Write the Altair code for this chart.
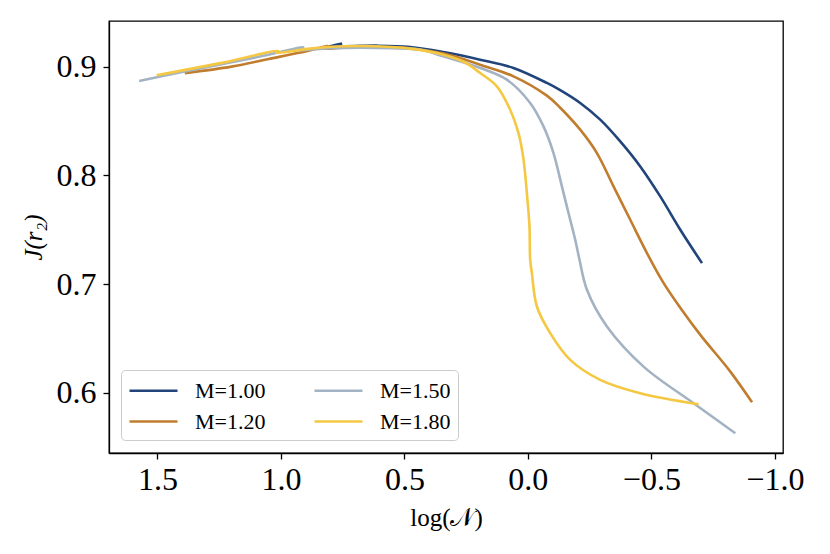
import altair as alt
import pandas as pd

# log(N) and J(r2) values per series (in drawing order)
m100_x = [0.752, 0.813, 0.75, 0.68, 0.612, 0.477, 0.342, 0.1933, 0.0583, -0.077, -0.1309,
          -0.2119, -0.2929, -0.374, -0.455, -0.536, -0.6171, -0.705]
m100_y = [0.9212, 0.918, 0.9188, 0.9191, 0.9193, 0.9181, 0.9134, 0.9064, 0.8988, 0.885, 0.8784,
          0.8666, 0.8512, 0.8312, 0.8082, 0.7806, 0.7499, 0.7192]

m120_x = [1.389, 1.2, 1.05, 0.922, 0.809, 0.83, 0.75, 0.6, 0.48, 0.34, 0.1933, 0.0583, -0.077,
          -0.1309, -0.2119, -0.2796, -0.3468, -0.4145, -0.4822, -0.5442, -0.6171, -0.6982,
          -0.8197, -0.9076]
m120_y = [0.894, 0.9, 0.907, 0.913, 0.919, 0.9165, 0.9175, 0.9178, 0.917, 0.912, 0.9018, 0.8911,
          0.8733, 0.8622, 0.842, 0.8205, 0.7898, 0.7591, 0.7285, 0.7029, 0.6781, 0.6532,
          0.6194, 0.5912]

m150_x = [1.574, 1.4, 1.2, 1.05, 0.909, 0.93, 0.8, 0.678, 0.55, 0.436, 0.342, 0.1925, 0.0851,
          -0.0093, -0.0632, -0.1037, -0.1378, -0.1645, -0.1917, -0.2091, -0.2391, -0.3201,
          -0.4684, -0.671, -0.8399]
m150_y = [0.8868, 0.895, 0.904, 0.911, 0.918, 0.9155, 0.917, 0.9175, 0.917, 0.9157, 0.9095,
          0.8988, 0.888, 0.8666, 0.845, 0.8205, 0.7898, 0.7653, 0.7407, 0.7223, 0.6947, 0.6609,
          0.624, 0.5903, 0.5627]

m180_x = [1.503, 1.25, 1.011, 1.02, 0.882, 0.748, 0.612, 0.477, 0.342, 0.26, 0.1933, 0.1256,
          0.0717, 0.0381, 0.0178, 0.0041, -0.0065, -0.0093, -0.0162, -0.0365, -0.0904, -0.1714,
          -0.2929, -0.455, -0.6913]
m180_y = [0.892, 0.903, 0.9145, 0.9128, 0.9166, 0.9187, 0.9187, 0.9166, 0.911, 0.9045, 0.8942,
          0.8819, 0.8604, 0.839, 0.8149, 0.7837, 0.753, 0.7223, 0.71, 0.6793, 0.6548, 0.6302,
          0.6118, 0.5995, 0.5894]

series_names = ["M=1.00", "M=1.20", "M=1.50", "M=1.80"]
series_x = [m100_x, m120_x, m150_x, m180_x]
series_y = [m100_y, m120_y, m150_y, m180_y]
series_colors = ["#21457a", "#c17d2e", "#a3b3c3", "#f4c842"]

x_ticks = [1.5, 1.0, 0.5, 0.0, -0.5, -1.0]
y_ticks = [0.6, 0.7, 0.8, 0.9]

rows = []
for name, xs, ys in zip(series_names, series_x, series_y):
    for i, (xv, yv) in enumerate(zip(xs, ys)):
        rows.append({"series": name, "logN": xv, "J": yv, "idx": i})
df = pd.DataFrame(rows)

FONT = "Liberation Serif"

chart = alt.Chart(df).mark_line(strokeWidth=2.6, interpolate="catmull-rom").encode(
    x=alt.X("logN:Q",
            scale=alt.Scale(domain=[-1.033, 1.696], reverse=True, nice=False, zero=False),
            axis=alt.Axis(values=x_ticks, format=".1f", title="log(𝒩)", grid=False,
                          tickSize=6, labelPadding=5, titlePadding=10)),
    y=alt.Y("J:Q",
            scale=alt.Scale(domain=[0.5445, 0.942], nice=False, zero=False),
            axis=alt.Axis(values=y_ticks, format=".1f", title="J(r₂)", grid=False,
                          tickSize=6, labelPadding=7, titlePadding=10,
                          titleFontStyle="italic")),
    color=alt.Color("series:N",
                    scale=alt.Scale(domain=series_names, range=series_colors),
                    legend=alt.Legend(title=None, orient="none", legendX=12, legendY=349,
                                      columns=2, symbolType="M-2,0L2,0", symbolSize=576,
                                      symbolStrokeWidth=2.6, symbolOffset=12, labelOffset=28,
                                      columnPadding=43, rowPadding=6, padding=7,
                                      fillColor="white", strokeColor="#cccccc",
                                      cornerRadius=4, labelFont=FONT, labelFontSize=22,
                                      labelColor="black")),
    order=alt.Order("idx:Q"),
).properties(
    width=674, height=432,
    autosize=alt.AutoSizeParams(type="none"),
    padding={"left": 101, "top": 13, "right": 39, "bottom": 93},
).configure_view(
    stroke="black", strokeWidth=1.3
).configure_axis(
    labelFont=FONT, labelFontSize=32, labelColor="black",
    titleFont=FONT, titleFontSize=25, titleColor="black", titleFontWeight="normal",
    domainColor="black", domainWidth=1.3, tickColor="black", tickWidth=1.3,
)

chart.save("out.html", embed_options={"renderer": "svg", "actions": False})
